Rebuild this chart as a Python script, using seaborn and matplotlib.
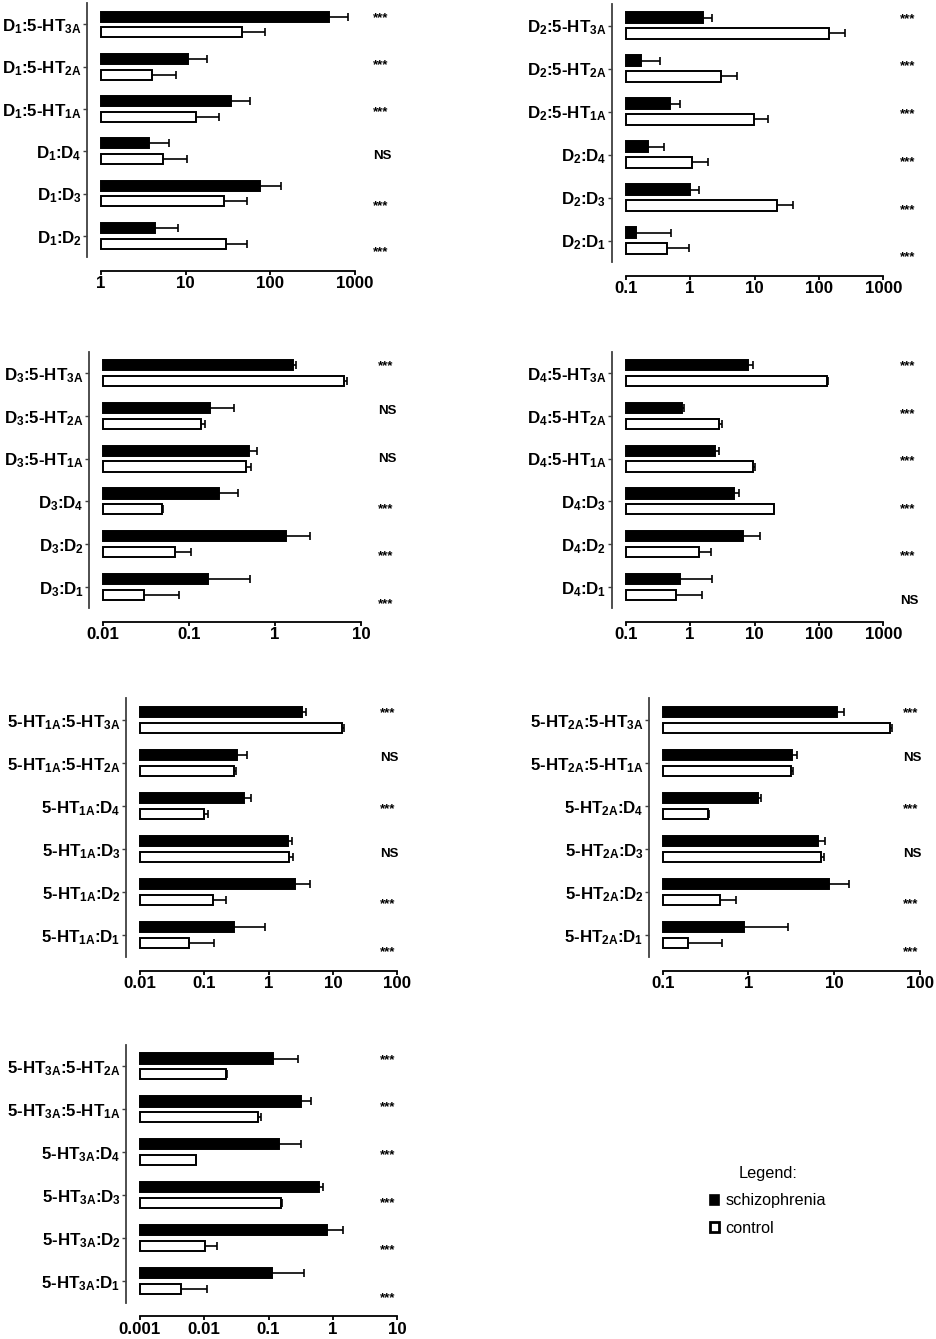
import numpy as np
import pandas as pd
import matplotlib
matplotlib.use("Agg")
import matplotlib.pyplot as plt
import seaborn as sns
from matplotlib.ticker import LogLocator, NullLocator, FuncFormatter
from matplotlib.patches import Patch

# ---------------- data ----------------
groups = ["schizophrenia", "control"]

cats_d1 = [r"D$_1$:5-HT$_{3A}$", r"D$_1$:5-HT$_{2A}$", r"D$_1$:5-HT$_{1A}$",
           r"D$_1$:D$_4$", r"D$_1$:D$_3$", r"D$_1$:D$_2$"]
schz_d1 = [490, 10.6, 34, 3.7, 76, 4.3]
schz_sd_d1 = [340, 7.4, 23, 2.7, 58, 3.9]
ctrl_d1 = [46, 4.0, 13.4, 5.4, 28, 29.7]
ctrl_sd_d1 = [41, 3.6, 11.1, 5.0, 25, 24]
sig_d1 = ["***", "***", "***", "NS", "***", "***"]

cats_d2 = [r"D$_2$:5-HT$_{3A}$", r"D$_2$:5-HT$_{2A}$", r"D$_2$:5-HT$_{1A}$",
           r"D$_2$:D$_4$", r"D$_2$:D$_3$", r"D$_2$:D$_1$"]
schz_d2 = [1.6, 0.173, 0.49, 0.222, 1.0, 0.145]
schz_sd_d2 = [0.6, 0.167, 0.20, 0.168, 0.37, 0.365]
ctrl_d2 = [143, 2.98, 9.7, 1.06, 22, 0.44]
ctrl_sd_d2 = [111, 2.3, 6.7, 0.84, 18, 0.51]
sig_d2 = ["***", "***", "***", "***", "***", "***"]

cats_d3 = [r"D$_3$:5-HT$_{3A}$", r"D$_3$:5-HT$_{2A}$", r"D$_3$:5-HT$_{1A}$",
           r"D$_3$:D$_4$", r"D$_3$:D$_2$", r"D$_3$:D$_1$"]
schz_d3 = [1.62, 0.175, 0.50, 0.221, 1.36, 0.165]
schz_sd_d3 = [0.13, 0.162, 0.11, 0.149, 1.17, 0.345]
ctrl_d3 = [6.4, 0.138, 0.456, 0.0485, 0.0687, 0.030]
ctrl_sd_d3 = [0.4, 0.014, 0.064, 0.0015, 0.037, 0.047]
sig_d3 = ["***", "NS", "NS", "***", "***", "***"]

cats_d4 = [r"D$_4$:5-HT$_{3A}$", r"D$_4$:5-HT$_{2A}$", r"D$_4$:5-HT$_{1A}$",
           r"D$_4$:D$_3$", r"D$_4$:D$_2$", r"D$_4$:D$_1$"]
schz_d4 = [8.0, 0.74, 2.41, 4.87, 6.7, 0.69]
schz_sd_d4 = [1.5, 0.05, 0.37, 0.83, 5.6, 1.52]
ctrl_d4 = [132, 2.85, 9.4, 19.9, 1.39, 0.60]
ctrl_sd_d4 = [8, 0.25, 0.9, 0.3, 0.72, 0.95]
sig_d4 = ["***", "***", "***", "***", "***", "NS"]

cats_1a = [r"5-HT$_{1A}$:5-HT$_{3A}$", r"5-HT$_{1A}$:5-HT$_{2A}$", r"5-HT$_{1A}$:D$_4$",
           r"5-HT$_{1A}$:D$_3$", r"5-HT$_{1A}$:D$_2$", r"5-HT$_{1A}$:D$_1$"]
schz_1a = [3.27, 0.32, 0.42, 2.01, 2.58, 0.291]
schz_sd_1a = [0.55, 0.14, 0.12, 0.31, 1.88, 0.60]
ctrl_1a = [13.7, 0.295, 0.101, 2.1, 0.139, 0.059]
ctrl_sd_1a = [1.3, 0.022, 0.013, 0.33, 0.077, 0.085]
sig_1a = ["***", "NS", "***", "NS", "***", "***"]

cats_2a = [r"5-HT$_{2A}$:5-HT$_{3A}$", r"5-HT$_{2A}$:5-HT$_{1A}$", r"5-HT$_{2A}$:D$_4$",
           r"5-HT$_{2A}$:D$_3$", r"5-HT$_{2A}$:D$_2$", r"5-HT$_{2A}$:D$_1$"]
schz_2a = [10.8, 3.22, 1.29, 6.53, 8.6, 0.887]
schz_sd_2a = [2.1, 0.46, 0.12, 1.27, 6.4, 2.0]
ctrl_2a = [44.7, 3.16, 0.335, 6.95, 0.466, 0.197]
ctrl_sd_2a = [2.5, 0.18, 0.015, 0.59, 0.244, 0.29]
sig_2a = ["***", "NS", "***", "NS", "***", "***"]

cats_3a = [r"5-HT$_{3A}$:5-HT$_{2A}$", r"5-HT$_{3A}$:5-HT$_{1A}$", r"5-HT$_{3A}$:D$_4$",
           r"5-HT$_{3A}$:D$_3$", r"5-HT$_{3A}$:D$_2$", r"5-HT$_{3A}$:D$_1$"]
schz_3a = [0.119, 0.316, 0.147, 0.615, 0.82, 0.112]
schz_sd_3a = [0.171, 0.141, 0.173, 0.095, 0.63, 0.248]
ctrl_3a = [0.0216, 0.0695, 0.0074, 0.155, 0.0102, 0.00443]
ctrl_sd_3a = [0.0011, 0.007, 0.0002, 0.006, 0.0057, 0.0068]
sig_3a = ["***", "***", "***", "***", "***", "***"]

# ---------------- style ----------------
sns.set_style("ticks")
plt.rcParams["font.family"] = ["Liberation Sans", "DejaVu Sans"]
plt.rcParams["font.weight"] = "bold"
plt.rcParams["mathtext.fontset"] = "custom"
plt.rcParams["mathtext.rm"] = "Liberation Sans:bold"
plt.rcParams["mathtext.it"] = "Liberation Sans:bold"
plt.rcParams["mathtext.bf"] = "Liberation Sans:bold"
for key in ["text.color", "axes.labelcolor", "xtick.color", "ytick.color"]:
    plt.rcParams[key] = "black"

W, H = 937, 1339
fig = plt.figure(figsize=(W / 100, H / 100), dpi=100)

# (data, xlim, axes box in px: x0, x1, ytop, ybot, sig x px)
panels = [
    ((cats_d1, schz_d1, schz_sd_d1, ctrl_d1, ctrl_sd_d1, sig_d1), (1, 1000), (101, 355, 3.3, 257, 373)),
    ((cats_d2, schz_d2, schz_sd_d2, ctrl_d2, ctrl_sd_d2, sig_d2), (0.1, 1000), (625.7, 883.3, 4, 262, 900)),
    ((cats_d3, schz_d3, schz_sd_d3, ctrl_d3, ctrl_sd_d3, sig_d3), (0.01, 10), (103, 361, 351.7, 608.3, 378)),
    ((cats_d4, schz_d4, schz_sd_d4, ctrl_d4, ctrl_sd_d4, sig_d4), (0.1, 1000), (625.7, 883.3, 351.7, 608.3, 900)),
    ((cats_1a, schz_1a, schz_sd_1a, ctrl_1a, ctrl_sd_1a, sig_1a), (0.01, 100), (139.7, 397.3, 698.3, 956.7, 380)),
    ((cats_2a, schz_2a, schz_sd_2a, ctrl_2a, ctrl_sd_2a, sig_2a), (0.1, 100), (662.7, 920, 698.3, 956.7, 903)),
    ((cats_3a, schz_3a, schz_sd_3a, ctrl_3a, ctrl_sd_3a, sig_3a), (0.001, 10), (139.7, 397.3, 1045, 1302.5, 380)),
]

palette = {"schizophrenia": "black", "control": "white"}

for (cats, s, s_sd, c, c_sd, sig), xlim, box in panels:
    x0, x1, yt, yb, sx = box
    ax = fig.add_axes([x0 / W, 1 - yb / H, (x1 - x0) / W, (yb - yt) / H])
    n = len(cats)
    df = pd.DataFrame({
        "pair": list(cats) * 2,
        "group": [groups[0]] * n + [groups[1]] * n,
        "ratio": list(s) + list(c),
    })
    sns.barplot(data=df, x="ratio", y="pair", hue="group", order=cats,
                hue_order=groups, palette=palette, saturation=1,
                errorbar=None, width=0.74, gap=0.36, edgecolor="black",
                linewidth=1.4, legend=False, orient="h", ax=ax)
    ax.set_xscale("log")
    ax.set_xlim(*xlim)
    lo = xlim[0]
    for p in ax.patches:
        right = p.get_x() + p.get_width()
        p.set_x(lo)
        p.set_width(right - lo)
        p.set_clip_on(False)
    for k, (vals, sds) in enumerate([(s, s_sd), (c, c_sd)]):
        ps = ax.patches[k * n:(k + 1) * n]
        ys = [p.get_y() + p.get_height() / 2 for p in ps]
        eb = ax.errorbar(vals, ys, xerr=[np.zeros(n), sds], fmt="none",
                         ecolor="black", elinewidth=1.2, capsize=2.6,
                         capthick=1.2, zorder=3)
        caps = eb[1]
        if len(caps) >= 2:
            caps[0].set_visible(False)
        for art in list(caps) + list(eb[2]):
            art.set_clip_on(False)
    ax.set_ylim(n - 0.5, -0.5)
    ax.xaxis.set_major_locator(LogLocator(base=10, numticks=12))
    ax.xaxis.set_minor_locator(NullLocator())
    ax.xaxis.set_major_formatter(FuncFormatter(lambda v, _: f"{v:g}"))
    ax.set_xlabel("")
    ax.set_ylabel("")
    sns.despine(ax=ax, offset=10)
    ax.spines["bottom"].set_linewidth(1.3)
    ax.spines["bottom"].set_color("black")
    ax.spines["left"].set_linewidth(1.3)
    ax.spines["left"].set_color("#404040")
    ax.tick_params(axis="x", which="major", direction="out", length=3,
                   width=1.3, pad=0.8, labelsize=12.2, color="black",
                   labelcolor="black")
    ax.tick_params(axis="y", which="major", direction="out", length=3,
                   width=1.0, pad=1, labelsize=12.2, color="#404040",
                   labelcolor="black")
    for lbl in ax.get_xticklabels() + ax.get_yticklabels():
        lbl.set_fontweight("bold")

    # significance marks, in an evenly spaced column right of the panel
    for i, txt in enumerate(sig):
        yv = yt + (0.04 + 0.185 * i) * (yb - yt)
        off = 7.5 if txt == "***" else 4.8
        fig.text(sx / W, 1 - (yv + off) / H, txt, ha="left", va="baseline",
                 fontsize=9.5, fontweight="bold", color="black")

handles = [Patch(facecolor="black", edgecolor="black", linewidth=1.2),
           Patch(facecolor="white", edgecolor="black", linewidth=2.0)]
fig.legend(handles, groups, title="Legend:", loc="center",
           bbox_to_anchor=(768 / W, 1 - 1201 / H), frameon=False,
           prop={"weight": "normal", "size": 11.7},
           title_fontproperties={"weight": "normal", "size": 11.7},
           handlelength=0.55, handleheight=0.55, handletextpad=0.4,
           labelspacing=0.75)

fig.savefig("out.png", dpi=100)
